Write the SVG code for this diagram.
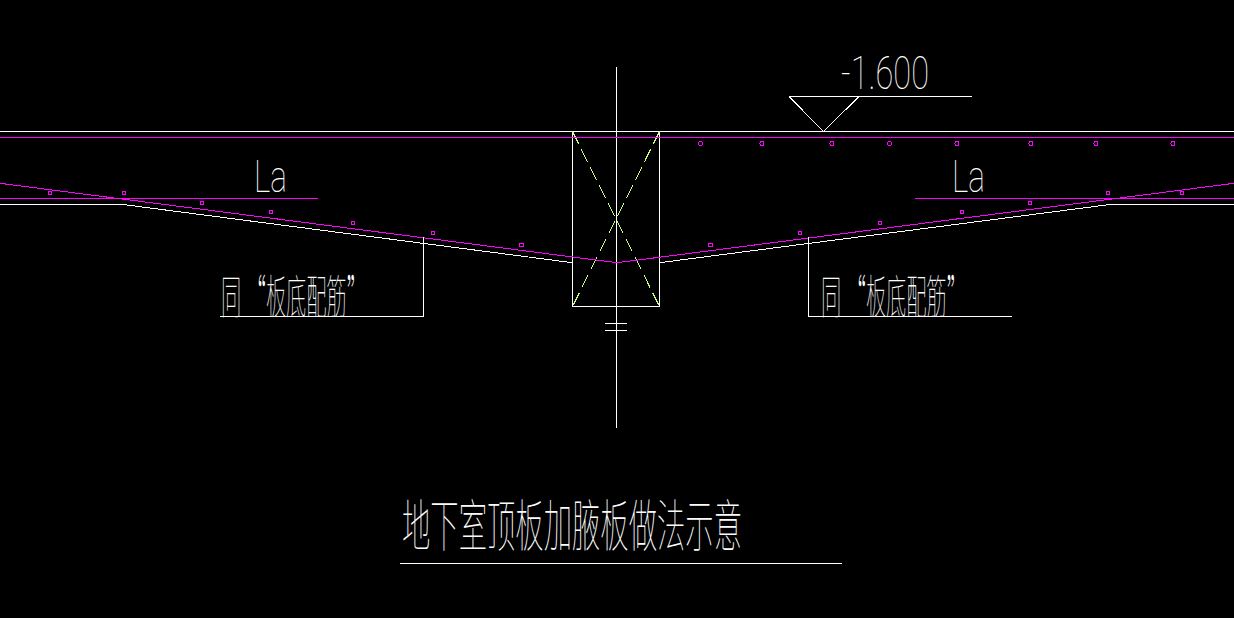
<svg xmlns="http://www.w3.org/2000/svg" width="1234" height="618" viewBox="0 0 1234 618">
<style>
.w{stroke:#fff;stroke-width:1;fill:none;shape-rendering:crispEdges}
.s{stroke:#fff;stroke-width:1;fill:none;shape-rendering:crispEdges}
.m{stroke:#f0f;stroke-width:1;fill:none;shape-rendering:crispEdges}
.g{stroke:#ccff80;stroke-width:1;stroke-dasharray:14 6;fill:none;shape-rendering:crispEdges}
.d circle{stroke:#f0f;stroke-width:1;fill:none;shape-rendering:crispEdges}
.t{opacity:.99}
.l{fill:#fff;font-family:Roboto,"Liberation Sans",sans-serif;font-weight:100}
.c{fill:#fff;font-family:"Noto Sans CJK SC",sans-serif;font-weight:100}
</style>
<rect width="1234" height="618" fill="#000"/>
<g id="slab">
<path class="w" d="M0 131.5H1234"/>
<path class="s" d="M0 204.5H123L572.5 262.7M659.5 262.7L1110 204.5H1234"/>
</g>
<g id="column">
<rect class="w" x="572.5" y="131.5" width="87" height="175"/>
<path class="g" d="M572.5 131.5L659.5 306.5M659.5 131.5L572.5 306.5"/>
<path class="w" d="M616.5 67V428M605 323.5H627M605 330.5H627"/>
</g>
<g id="rebar">
<path class="m" d="M0 137.5H1234M0 198.5H318M915 198.5H1234"/>
<path class="m" d="M0 183.3L617 262.7L1234 183.3"/>
</g>
<g id="rebar-dots" class="d">
<circle cx="50" cy="193" r="2"/><circle cx="124" cy="193" r="2"/><circle cx="202" cy="203" r="2"/><circle cx="271" cy="212" r="2"/><circle cx="353" cy="223" r="2"/><circle cx="433" cy="233" r="2"/><circle cx="521.5" cy="245" r="2"/>
<circle cx="710.5" cy="245" r="2"/><circle cx="800" cy="233" r="2"/><circle cx="880" cy="223" r="2"/><circle cx="962" cy="212" r="2"/><circle cx="1030" cy="203" r="2"/><circle cx="1108" cy="193" r="2"/><circle cx="1182" cy="193" r="2"/>
<circle cx="700.5" cy="143.5" r="2"/><circle cx="762" cy="143.5" r="2"/><circle cx="832" cy="143.5" r="2"/><circle cx="889.5" cy="143.5" r="2"/><circle cx="957" cy="143.5" r="2"/><circle cx="1031" cy="143.5" r="2"/><circle cx="1096" cy="143.5" r="2"/><circle cx="1173" cy="143.5" r="2"/>
</g>
<g id="elevation">
<path class="s" d="M789 96.5H972M789 96.5L823.5 131.5L859 96.5"/>
<g class="t"><text class="l" x="841" y="89" font-size="46" textLength="88" lengthAdjust="spacingAndGlyphs">-1.600</text></g>
</g>
<g id="la-left" class="t"><text class="l" x="254" y="191.7" font-size="45" textLength="33" lengthAdjust="spacingAndGlyphs">La</text></g>
<g id="la-right" class="t"><text class="l" x="952" y="191.7" font-size="45" textLength="33" lengthAdjust="spacingAndGlyphs">La</text></g>
<g id="note-left">
<path class="w" d="M423.5 237V316.5H220"/>
<g class="t"><text class="c" x="221" y="313" font-size="46" textLength="146" lengthAdjust="spacingAndGlyphs">同 “板底配筋”</text></g>
</g>
<g id="note-right">
<path class="w" d="M808.5 237V316.5H1012"/>
<g class="t"><text class="c" x="821" y="313" font-size="46" textLength="146" lengthAdjust="spacingAndGlyphs">同 “板底配筋”</text></g>
</g>
<g id="title">
<g class="t"><text class="c" x="402" y="546" font-size="56" textLength="340" lengthAdjust="spacingAndGlyphs">地下室顶板加腋板做法示意</text></g>
<path class="w" d="M400 563.5H842"/>
</g>
</svg>
